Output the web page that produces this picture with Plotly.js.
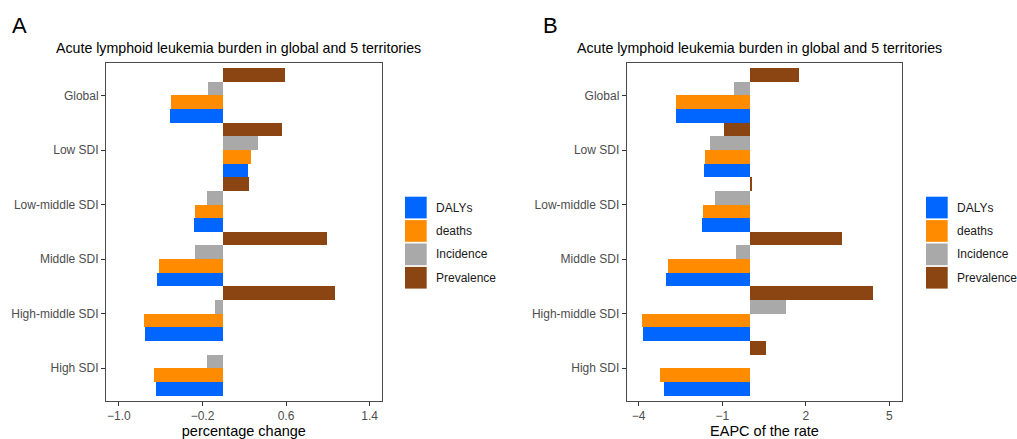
<!DOCTYPE html>
<html>
<head>
<meta charset="utf-8">
<script src="https://cdn.plot.ly/plotly-3.0.1.min.js"></script>
<style>html,body{margin:0;padding:0;background:#fff;}#chart{width:1017px;height:439px;}</style>
</head>
<body>
<div id="chart"></div>
<script>
// ---- data ----
const categories = ["Global", "Low SDI", "Low-middle SDI", "Middle SDI", "High-middle SDI", "High SDI"];
const seriesNames = ["DALYs", "deaths", "Incidence", "Prevalence"];
const seriesColors = ["#0066FF", "#FF8C00", "#A9A9A9", "#8B4513"];

// Panel A: percentage change
const pctDALYs      = [-0.51, 0.24, -0.28, -0.64, -0.75, -0.65];
const pctDeaths     = [-0.50, 0.26, -0.27, -0.62, -0.76, -0.66];
const pctIncidence  = [-0.15, 0.33, -0.16, -0.27, -0.08, -0.16];
const pctPrevalence = [0.59, 0.56, 0.25, 0.99, 1.07, 0.00];

// Panel B: EAPC of the rate
const eapcDALYs      = [-2.67, -1.64, -1.74, -3.01, -3.85, -3.08];
const eapcDeaths     = [-2.66, -1.61, -1.69, -2.96, -3.88, -3.24];
const eapcIncidence  = [-0.58, -1.44, -1.25, -0.49, 1.30, 0.00];
const eapcPrevalence = [1.76, -0.95, 0.08, 3.30, 4.41, 0.57];

const pctTicks  = [-1.0, -0.2, 0.6, 1.4];
const pctTickText = ["\u22121.0", "\u22120.2", "0.6", "1.4"];
const eapcTicks = [-4, -1, 2, 5];
const eapcTickText = ["\u22124", "\u22121", "2", "5"];

const chartTitle = "Acute lymphoid leukemia burden in global and 5 territories";
const panelLetters = ["A", "B"];
const xTitles = ["percentage change", "EAPC of the rate"];

// ---- build ----
const W = 1017, H = 439;
const px = v => v / W;
const py = v => 1 - v / H;

const pctSeries = [pctDALYs, pctDeaths, pctIncidence, pctPrevalence];
const eapcSeries = [eapcDALYs, eapcDeaths, eapcIncidence, eapcPrevalence];

const traces = [];
seriesNames.forEach((name, i) => {
  traces.push({
    type: "bar", orientation: "h", name: name,
    x: pctSeries[i], y: categories,
    xaxis: "x", yaxis: "y",
    marker: {color: seriesColors[i], line: {width: 0}},
    showlegend: false,
    hovertemplate: name + ": %{x}<extra>%{y}</extra>"
  });
});
seriesNames.forEach((name, i) => {
  traces.push({
    type: "bar", orientation: "h", name: name,
    x: eapcSeries[i], y: categories,
    xaxis: "x2", yaxis: "y2",
    marker: {color: seriesColors[i], line: {width: 0}},
    showlegend: false,
    hovertemplate: name + ": %{x}<extra>%{y}</extra>"
  });
});

const catOrder = categories.slice().reverse();
const yDomain = [py(401), py(62.7)];

function xAxis(domain, range, tickvals, ticktext, title) {
  return {
    domain: domain, range: range, tickvals: tickvals, ticktext: ticktext,
    showgrid: false, zeroline: false,
    showline: true, mirror: true, linecolor: "#4a4a4a", linewidth: 1,
    ticks: "outside", ticklen: 4, tickcolor: "#333", tickwidth: 1,
    tickfont: {family: "Liberation Sans, Arial, sans-serif", size: 12, color: "#4D4D4D"},
    title: {text: title, font: {family: "Liberation Sans, Arial, sans-serif", size: 14.5, color: "#000"}, standoff: 4},
    automargin: false, fixedrange: true
  };
}
function yAxis(anchor) {
  return {
    domain: yDomain, type: "category", categoryorder: "array", categoryarray: catOrder,
    range: [-0.6, 5.6], anchor: anchor,
    showgrid: false, zeroline: false,
    showline: true, mirror: true, linecolor: "#4a4a4a", linewidth: 1,
    ticks: "outside", ticklen: 4, tickcolor: "#333", tickwidth: 1,
    tickfont: {family: "Liberation Sans, Arial, sans-serif", size: 12, color: "#4D4D4D"},
    automargin: false, fixedrange: true
  };
}

const annotations = [];
const shapes = [];
const panels = [
  {left: 106, right: 381.7, keyX: 405, letterX: 10},
  {left: 626.7, right: 902.3, keyX: 926, letterX: 541}
];
panels.forEach((p, k) => {
  annotations.push({
    xref: "paper", yref: "paper", x: px(p.letterX), y: py(25), xanchor: "left", yanchor: "middle",
    text: panelLetters[k], showarrow: false,
    font: {family: "Liberation Sans, Arial, sans-serif", size: 22, color: "#000"}
  });
  annotations.push({
    xref: "paper", yref: "paper", x: px((p.left + p.right) / 2 - 5), y: py(48.3), xanchor: "center", yanchor: "middle",
    text: chartTitle, showarrow: false,
    font: {family: "Liberation Sans, Arial, sans-serif", size: 14.2, color: "#000"}
  });
  seriesNames.forEach((name, i) => {
    const top = 196.7 + i * 23.4;
    shapes.push({
      type: "rect", xref: "paper", yref: "paper",
      x0: px(p.keyX), x1: px(p.keyX + 21.7), y0: py(top + 21.7), y1: py(top),
      fillcolor: seriesColors[i], line: {width: 0}
    });
    annotations.push({
      xref: "paper", yref: "paper", x: px(p.keyX + 28.5), y: py(top + 10.85), xanchor: "left", yanchor: "middle",
      text: name, showarrow: false,
      font: {family: "Liberation Sans, Arial, sans-serif", size: 12, color: "#1a1a1a"}
    });
  });
});

const layout = {
  width: W, height: H,
  margin: {l: 0, r: 0, t: 0, b: 0},
  paper_bgcolor: "#fff", plot_bgcolor: "#fff",
  barmode: "group", bargap: 0, bargroupgap: 0,
  showlegend: false,
  xaxis: xAxis([px(106), px(381.7)], [-1.124, 1.516], pctTicks, pctTickText, xTitles[0]),
  yaxis: yAxis("x"),
  xaxis2: Object.assign(xAxis([px(626.7), px(902.3)], [-4.43, 5.465], eapcTicks, eapcTickText, xTitles[1]), {anchor: "y2"}),
  yaxis2: yAxis("x2"),
  annotations: annotations,
  shapes: shapes,
  font: {family: "Liberation Sans, Arial, sans-serif"}
};
layout.xaxis.anchor = "y";

Plotly.newPlot("chart", traces, layout, {displayModeBar: false, staticPlot: true});
</script>
</body>
</html>
